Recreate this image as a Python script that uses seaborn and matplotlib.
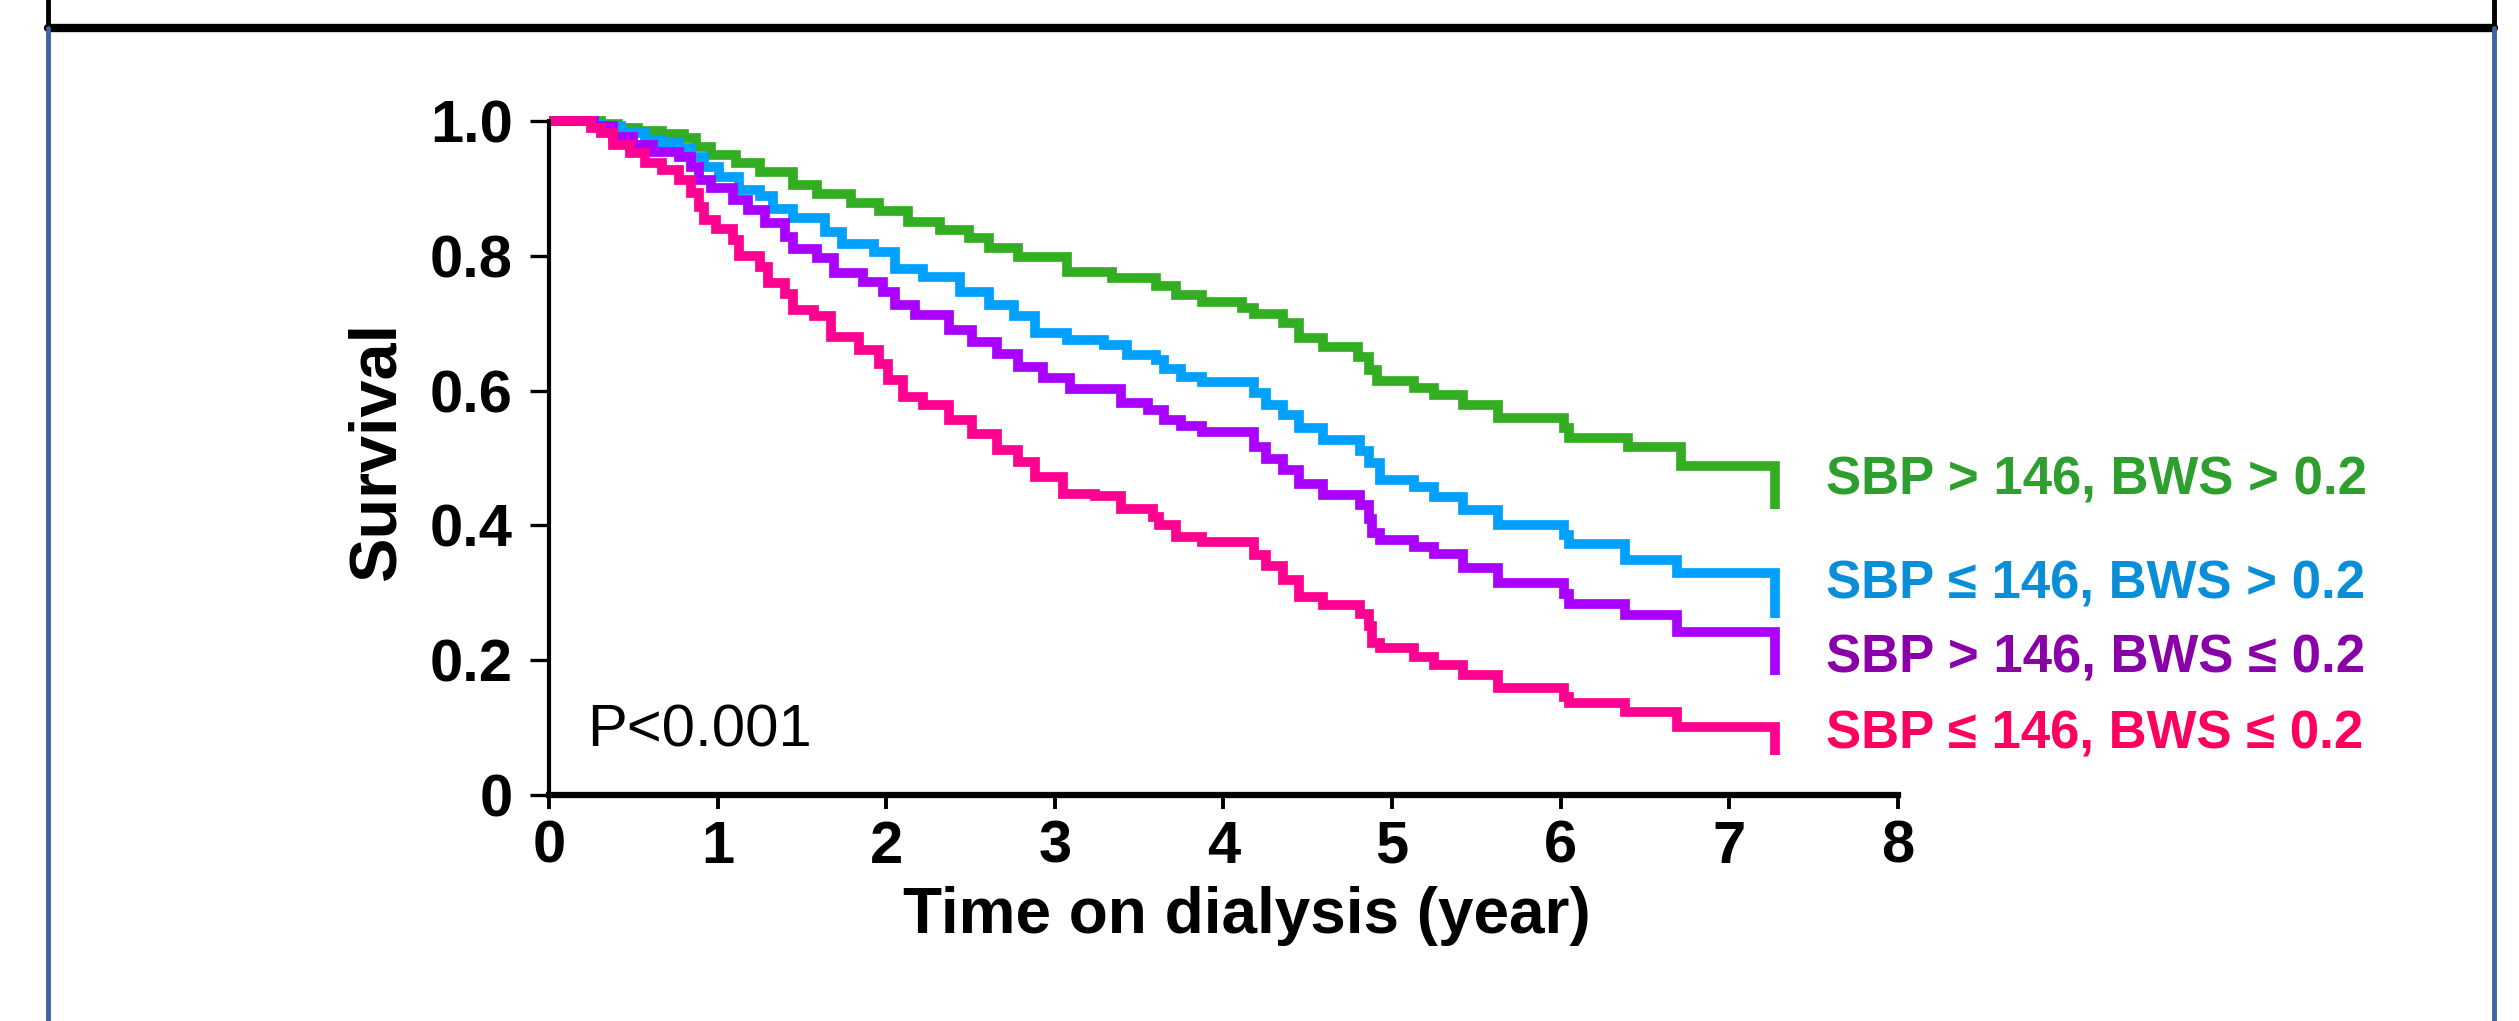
import matplotlib

matplotlib.use("Agg")
import matplotlib.pyplot as plt
import numpy as np
import pandas as pd
import seaborn as sns
from matplotlib.lines import Line2D

# Kaplan-Meier step curves (time in years, survival)
green_t = [0, 0.31, 0.41, 0.53, 0.67, 0.80, 0.87, 0.96, 1.11, 1.25, 1.45, 1.59, 1.79, 1.96,
           2.13, 2.32, 2.49, 2.61, 2.78, 3.07, 3.34, 3.60, 3.72, 3.87, 4.11, 4.18, 4.35, 4.45,
           4.59, 4.80, 4.86, 4.91, 5.13, 5.25, 5.42, 5.63, 6.02, 6.05, 6.40, 6.71, 7.27, 7.27]
green_s = [1.000, 0.995, 0.990, 0.985, 0.981, 0.975, 0.962, 0.950, 0.938, 0.925, 0.905, 0.892,
           0.879, 0.866, 0.850, 0.838, 0.826, 0.812, 0.798, 0.776, 0.767, 0.755, 0.742, 0.732,
           0.722, 0.713, 0.700, 0.678, 0.665, 0.650, 0.630, 0.614, 0.604, 0.594, 0.578, 0.559,
           0.545, 0.530, 0.516, 0.488, 0.488, 0.425]

blue_t = [0, 0.27, 0.31, 0.43, 0.57, 0.67, 0.77, 0.84, 0.92, 1.01, 1.13, 1.25, 1.33, 1.45,
          1.64, 1.74, 1.93, 2.05, 2.22, 2.44, 2.61, 2.76, 2.88, 3.07, 3.29, 3.43, 3.60, 3.65,
          3.75, 3.87, 4.18, 4.25, 4.35, 4.45, 4.59, 4.81, 4.86, 4.93, 5.13, 5.25, 5.42, 5.63,
          6.02, 6.05, 6.38, 6.69, 7.27, 7.27]
blue_s = [1.000, 0.996, 0.992, 0.982, 0.972, 0.967, 0.960, 0.947, 0.932, 0.917, 0.898, 0.888,
          0.870, 0.856, 0.836, 0.818, 0.806, 0.781, 0.768, 0.746, 0.727, 0.710, 0.686, 0.675,
          0.668, 0.653, 0.645, 0.632, 0.620, 0.613, 0.596, 0.579, 0.564, 0.544, 0.527, 0.510,
          0.492, 0.467, 0.457, 0.442, 0.423, 0.401, 0.385, 0.372, 0.349, 0.329, 0.329, 0.262]

purple_t = [0, 0.27, 0.38, 0.50, 0.62, 0.77, 0.84, 0.89, 0.96, 1.09, 1.18, 1.28, 1.40, 1.45,
            1.59, 1.69, 1.86, 1.98, 2.05, 2.17, 2.37, 2.51, 2.66, 2.78, 2.93, 3.09, 3.39, 3.55,
            3.65, 3.75, 3.87, 4.18, 4.25, 4.35, 4.45, 4.59, 4.81, 4.86, 4.88, 4.93, 5.13, 5.25,
            5.42, 5.63, 6.02, 6.05, 6.38, 6.69, 7.27, 7.27]
purple_s = [1.000, 0.992, 0.976, 0.964, 0.954, 0.946, 0.932, 0.912, 0.900, 0.883, 0.868, 0.848,
            0.828, 0.810, 0.796, 0.774, 0.761, 0.746, 0.727, 0.712, 0.690, 0.672, 0.655, 0.635,
            0.618, 0.603, 0.581, 0.571, 0.556, 0.548, 0.539, 0.517, 0.499, 0.482, 0.462, 0.445,
            0.430, 0.410, 0.388, 0.378, 0.368, 0.358, 0.336, 0.314, 0.298, 0.284, 0.267, 0.242,
            0.242, 0.178]

pink_t = [0, 0.25, 0.31, 0.38, 0.48, 0.57, 0.67, 0.77, 0.84, 0.89, 0.92, 0.99, 1.09, 1.13,
          1.25, 1.30, 1.40, 1.45, 1.57, 1.67, 1.84, 1.96, 2.01, 2.10, 2.22, 2.37, 2.51, 2.66,
          2.78, 2.88, 3.05, 3.24, 3.39, 3.58, 3.62, 3.72, 3.87, 4.18, 4.25, 4.35, 4.45, 4.59,
          4.81, 4.86, 4.88, 4.93, 5.13, 5.25, 5.42, 5.63, 6.02, 6.05, 6.38, 6.69, 7.27, 7.27]
pink_s = [1.000, 0.990, 0.982, 0.964, 0.952, 0.937, 0.927, 0.912, 0.893, 0.873, 0.853, 0.840,
          0.823, 0.799, 0.784, 0.759, 0.744, 0.720, 0.710, 0.680, 0.660, 0.640, 0.616, 0.591,
          0.579, 0.556, 0.535, 0.512, 0.494, 0.472, 0.447, 0.444, 0.425, 0.413, 0.400, 0.383,
          0.376, 0.356, 0.339, 0.319, 0.294, 0.282, 0.268, 0.250, 0.225, 0.218, 0.205, 0.193,
          0.178, 0.158, 0.146, 0.136, 0.123, 0.101, 0.101, 0.060]

groups = ["SBP > 146, BWS > 0.2", "SBP ≤ 146, BWS > 0.2",
          "SBP > 146, BWS ≤ 0.2", "SBP ≤ 146, BWS ≤ 0.2"]
label_y = [0.467, 0.312, 0.202, 0.089]
line_colors = ["#33ae22", "#00a0ff", "#aa00ff", "#ff0090"]
text_colors = ["#2e9e2e", "#0a8ed8", "#8a00a8", "#ff0060"]

x_ticks = [0, 1, 2, 3, 4, 5, 6, 7, 8]
y_ticks = [0, 0.2, 0.4, 0.6, 0.8, 1.0]
y_tick_labels = ["0", "0.2", "0.4", "0.6", "0.8", "1.0"]


def main():
    sns.set_style("ticks")
    plt.rcParams["font.family"] = ["Liberation Sans", "DejaVu Sans"]
    plt.rcParams.update({
        "text.color": "black",
        "axes.labelcolor": "black",
        "xtick.color": "black",
        "ytick.color": "black",
    })

    frames = []
    for name, t, s in zip(groups, [green_t, blue_t, purple_t, pink_t],
                          [green_s, blue_s, purple_s, pink_s]):
        frames.append(pd.DataFrame({"time": t, "survival": s, "group": name}))
    df = pd.concat(frames, ignore_index=True)

    fig = plt.figure(figsize=(25.19, 10.21), dpi=100)
    ax = fig.add_axes([0.2179, 0.2214, 0.5356, 0.6601])

    sns.lineplot(
        data=df, x="time", y="survival", hue="group", hue_order=groups,
        palette=dict(zip(groups, line_colors)), estimator=None, sort=False,
        drawstyle="steps-post", linewidth=7, legend=False, ax=ax,
    )
    for line in ax.lines:
        line.set_clip_on(False)
        line.set_solid_joinstyle("miter")
        line.set_solid_capstyle("butt")

    ax.set_xlim(0, 8)
    ax.set_ylim(0, 1)
    ax.set_xticks(x_ticks)
    ax.set_yticks(y_ticks)
    ax.set_yticklabels(y_tick_labels)
    for lab in ax.get_xticklabels() + ax.get_yticklabels():
        lab.set_fontweight("bold")
        lab.set_fontsize(43)
        lab.set_color("black")
    ax.tick_params(axis="y", length=14, width=2.4, pad=12)
    ax.tick_params(axis="x", length=10, width=2.8, pad=8)
    ax.spines["left"].set_linewidth(3.0)
    ax.spines["bottom"].set_linewidth(4.5)
    for sp in ["left", "bottom"]:
        ax.spines[sp].set_color("black")
    sns.despine(ax=ax)

    ax.set_xlabel("Time on dialysis (year)", fontsize=46, fontweight="bold", color="black")
    ax.set_ylabel("Survival", fontsize=48, fontweight="bold", color="black")
    ax.xaxis.set_label_coords(0.517, -0.135)
    ax.yaxis.set_label_coords(-0.104, 0.51)

    ax.text(0.225, 0.072, "P<0.001", fontsize=43, color="black", ha="left", va="baseline")
    for name, yv, c in zip(groups, label_y, text_colors):
        ax.text(7.57, yv, name, fontsize=38, fontweight="bold", color=c,
                ha="left", va="center", clip_on=False)

    # panel frame: black title box edge on top, blue border below it
    W, H = 2519, 1021
    xl, xr, yb = 48 / W, 2494 / W, 1 - 28 / H
    fig.add_artist(Line2D([xl, xr], [yb, yb], transform=fig.transFigure, color="black", linewidth=6))
    for xv in [xl, xr]:
        fig.add_artist(Line2D([xv, xv], [yb, 1.0], transform=fig.transFigure, color="black", linewidth=3.5))
        fig.add_artist(Line2D([xv, xv], [0, yb], transform=fig.transFigure, color="#3d63a0", linewidth=3.5))

    fig.savefig("out.png", dpi=100)
    plt.close(fig)


if __name__ == "__main__":
    main()
